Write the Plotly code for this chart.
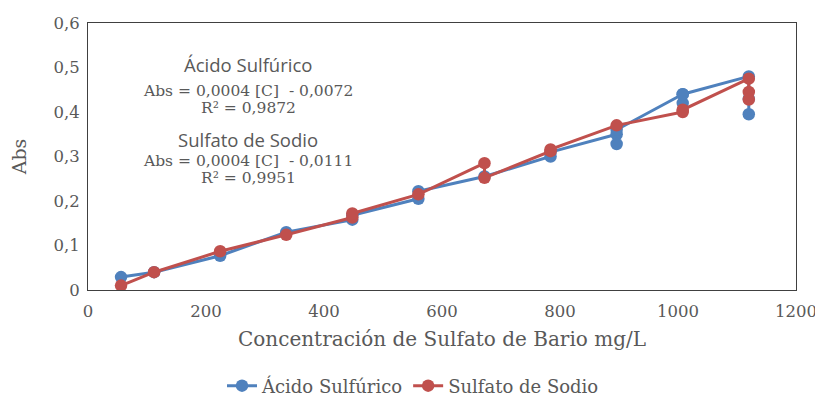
import plotly.graph_objects as go

# Data (concentration mg/L, absorbance)
acido_x = [56, 112, 224, 336, 448, 448, 560, 560, 672, 784, 784, 896, 896, 896, 1008, 1008, 1008, 1120, 1120, 1120]
acido_y = [0.029, 0.040, 0.077, 0.130, 0.158, 0.168, 0.205, 0.222, 0.255, 0.300, 0.310, 0.350, 0.328, 0.360, 0.440, 0.420, 0.440, 0.480, 0.430, 0.395]

sodio_x = [56, 112, 224, 336, 448, 448, 560, 672, 672, 784, 784, 896, 1008, 1008, 1120, 1120, 1120]
sodio_y = [0.010, 0.040, 0.087, 0.124, 0.163, 0.172, 0.215, 0.285, 0.252, 0.312, 0.316, 0.370, 0.400, 0.405, 0.475, 0.445, 0.428]

x_ticks = [0, 200, 400, 600, 800, 1000, 1200]
y_ticks = [0, 0.1, 0.2, 0.3, 0.4, 0.5, 0.6]

BLUE = "#4F81BD"
RED = "#C0504D"
GRAY = "#595959"
SERIF = "DejaVu Serif, Liberation Serif, serif"
SANS = "Open Sans, Noto Sans, sans-serif"

# The page body has an 8px margin, so the figure is offset by 8px.
W, H = 815, 389
PL, PR, PT, PB = 80, 788, 15, 282  # plot area edges in figure pixels

fig = go.Figure()
fig.add_trace(go.Scatter(
    x=acido_x, y=acido_y, mode="lines+markers", name="Ácido Sulfúrico",
    line=dict(color=BLUE, width=3), marker=dict(color=BLUE, size=12.5)))
fig.add_trace(go.Scatter(
    x=sodio_x, y=sodio_y, mode="lines+markers", name="Sulfato de Sodio",
    line=dict(color=RED, width=3), marker=dict(color=RED, size=12.5)))

ann = [
    ("Ácido Sulfúrico", 64, SANS, 18.5),
    ("Abs = 0,0004 [C]  - 0,0072", 91, SERIF, 15.5),
    ("R² = 0,9872", 108, SERIF, 15.5),
    ("Sulfato de Sodio", 139, SANS, 18.5),
    ("Abs = 0,0004 [C]  - 0,0111", 161, SERIF, 15.5),
    ("R² = 0,9951", 178, SERIF, 15.5),
]
annotations = []
for text, ypix, fam, sz in ann:
    annotations.append(dict(
        text=text, xref="paper", yref="paper",
        x=(248 - 88) / 708, y=(290 - ypix) / 267,
        showarrow=False, xanchor="center", yanchor="middle",
        font=dict(family=fam, size=sz, color=GRAY)))

fig.update_layout(
    width=W, height=H,
    margin=dict(l=PL, r=W - PR, t=PT, b=H - PB, autoexpand=False, pad=0),
    paper_bgcolor="white", plot_bgcolor="white",
    separators=",.",
    showlegend=True,
    legend=dict(orientation="h", x=(413 - 88) / 708, xanchor="center",
                y=(290 - 386) / 267, yanchor="middle",
                font=dict(family=SERIF, size=18, color=GRAY)),
    annotations=annotations,
    xaxis=dict(range=[0, 1200], tickvals=x_ticks, showgrid=False, zeroline=False,
               automargin=False, ticklabelstandoff=6,
               showline=True, linecolor="#404040", linewidth=1, mirror=True,
               ticks="", tickfont=dict(family=SERIF, size=16.5, color=GRAY),
               title=dict(text="Concentración de Sulfato de Bario mg/L",
                          font=dict(family=SERIF, size=20, color=GRAY), standoff=12)),
    yaxis=dict(range=[0, 0.6], tickvals=y_ticks, showgrid=False, zeroline=False,
               automargin=False, ticklabelstandoff=4,
               showline=True, linecolor="#404040", linewidth=1, mirror=True,
               ticks="", tickfont=dict(family=SERIF, size=16.5, color=GRAY),
               title=dict(text="Abs", font=dict(family=SERIF, size=19, color=GRAY),
                          standoff=28)),
)

fig.write_html("out.html")
